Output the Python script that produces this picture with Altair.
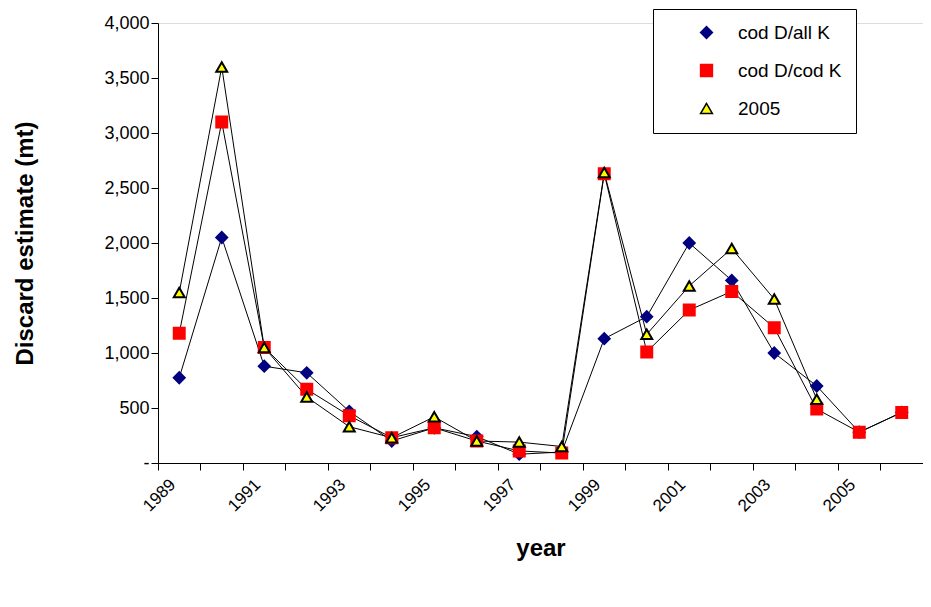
import altair as alt
import pandas as pd

years = list(range(1989, 2007))
all_k = [775, 2050, 880, 820, 470, 200, 320, 240, 80, 100, 1130, 1330, 2000, 1660, 1000, 700, 280, 460]
cod_k = [1180, 3100, 1050, 670, 430, 230, 320, 200, 110, 90, 2630, 1010, 1390, 1560, 1230, 490, 280, 460]
y2005 = [1550, 3600, 1050, 600, 330, 230, 420, 200, 190, 150, 2640, 1170, 1610, 1950, 1490, 580]

series = ["cod D/all K", "cod D/cod K", "2005"]
rows = []
for name, vals in zip(series, [all_k, cod_k, y2005]):
    for yr, v in zip(years, vals):
        rows.append({"year": str(yr), "value": v, "series": name})
df = pd.DataFrame(rows)

x = alt.X("year:O", title="year", bandPosition=0.5,
          scale=alt.Scale(type="band", paddingInner=0, paddingOuter=0),
          axis=alt.Axis(labelAngle=-45, labelAlign="right", labelBaseline="top",
                        labelExpr="(+datum.value) % 2 == 1 ? datum.label : ''",
                        labelFontSize=17, titleFontSize=24, titleFontWeight="bold",
                        labelColor="black", titleColor="black", domainColor="black",
                        tickColor="black", labelPadding=6, titlePadding=22,
                        bandPosition=0, labelOffset=-12, tickSize=7))
y = alt.Y("value:Q", title="Discard estimate (mt)",
          scale=alt.Scale(domain=[0, 4000]),
          axis=alt.Axis(values=list(range(0, 4001, 500)),
                        labelExpr="datum.value == 0 ? '-' : format(datum.value, ',')",
                        grid=False, labelFontSize=18, titleFontSize=24,
                        titleFontWeight="bold", labelColor="black", titleColor="black",
                        domainColor="black", tickColor="black", titlePadding=66, tickSize=7))

lines = alt.Chart(df).mark_line(color="black", strokeWidth=1).encode(
    x=x, y=y, detail="series:N")

points = alt.Chart(df).mark_point(filled=True, size=120, opacity=1).encode(
    x=x, y=y,
    fill=alt.Fill("series:N", scale=alt.Scale(domain=series, range=["#000080", "#ff0000", "#ffff00"]),
                  legend=alt.Legend(title=None, orient="none", legendX=495, legendY=-14,
                                    labelFontSize=19, strokeColor="black", fillColor="white",
                                    padding=14, symbolStrokeColor="black", symbolSize=140,
                                    symbolOffset=30, labelOffset=22,
                                    rowPadding=18, labelColor="black", labelLimit=300)),
    shape=alt.Shape("series:N", scale=alt.Scale(domain=series, range=["diamond", "square", "triangle-up"]),
                    legend=alt.Legend(title=None)),
    stroke=alt.Stroke("series:N", scale=alt.Scale(domain=series, range=["#000080", "#ff0000", "black"]),
                      legend=None),
)

chart = (lines + points).properties(
    width=765, height=440, padding={"left": 5, "top": 0, "right": 0, "bottom": 5}
).configure_view(stroke=None).configure(font="Liberation Sans")
chart.save("out.html", embed_options={"renderer": "svg", "actions": False})
